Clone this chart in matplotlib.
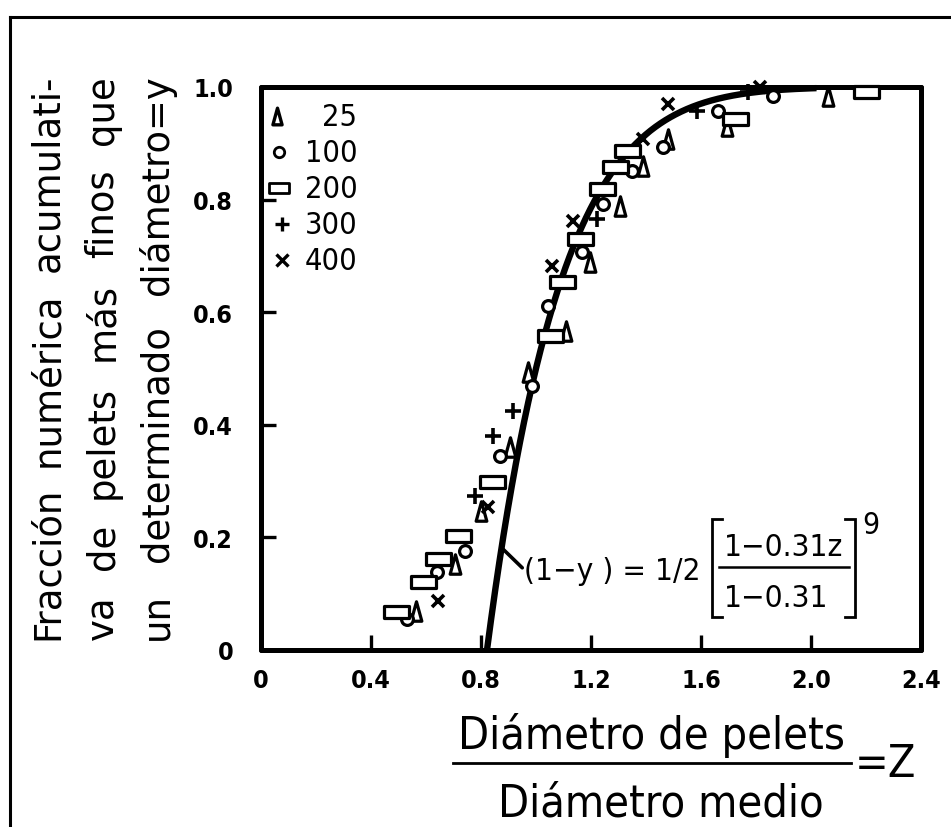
import numpy as np
import matplotlib
matplotlib.use("Agg")
import matplotlib.pyplot as plt
from matplotlib.lines import Line2D
from matplotlib.path import Path
from matplotlib.font_manager import FontProperties

plt.rcParams['font.family'] = ['DejaVu Sans']

# Z = pellet diameter / mean diameter ; Y = cumulative number fraction finer than Z
z_25 = [0.565, 0.705, 0.80, 0.905, 0.97, 1.11, 1.196, 1.305, 1.39, 1.48, 1.695, 2.06]
y_25 = [0.070, 0.153, 0.247, 0.360, 0.494, 0.567, 0.690, 0.789, 0.860, 0.908, 0.930, 0.984]

z_100 = [0.53, 0.64, 0.74, 0.87, 0.985, 1.044, 1.167, 1.244, 1.35, 1.46, 1.66, 1.86]
y_100 = [0.055, 0.138, 0.176, 0.345, 0.469, 0.611, 0.707, 0.792, 0.851, 0.893, 0.957, 0.984]

z_200 = [0.49, 0.59, 0.645, 0.716, 0.84, 1.05, 1.095, 1.16, 1.24, 1.287, 1.33, 1.724, 2.20]
y_200 = [0.068, 0.120, 0.162, 0.203, 0.298, 0.558, 0.654, 0.730, 0.819, 0.858, 0.886, 0.943, 0.991]

z_300 = [0.778, 0.845, 0.917, 1.22, 1.585, 1.77]
y_300 = [0.273, 0.380, 0.424, 0.766, 0.957, 0.991]

z_400 = [0.645, 0.826, 1.058, 1.135, 1.39, 1.48, 1.815]
y_400 = [0.087, 0.254, 0.682, 0.762, 0.908, 0.970, 1.000]

series_labels = ["25", "100", "200", "300", "400"]

# model: (1 - y) = 1/2 * [(1 - a z) / (1 - a)]^n
a_coef = 0.31
n_exp = 9
z_end = 2.02

xticks = [0, 0.4, 0.8, 1.2, 1.6, 2.0, 2.4]
xtick_labels = ["0", "0.4", "0.8", "1.2", "1.6", "2.0", "2.4"]
yticks = [0, 0.2, 0.4, 0.6, 0.8, 1.0]
ytick_labels = ["0", "0.2", "0.4", "0.6", "0.8", "1.0"]

W, H = 951, 828
fig = plt.figure(figsize=(W / 100, H / 100), dpi=100)
fig.patch.set_facecolor('white')
renderer = fig.canvas.get_renderer()

# narrow lettering where a condensed face is available
LBL = dict(family='DejaVu Sans', stretch='condensed')
WIDE = dict(family='DejaVu Sans')


def px(x, y):
    """pixel position (from top-left) -> figure fraction"""
    return x / W, 1 - y / H


def text_width(s, size, font):
    prop = FontProperties(size=size, **font)
    w, h, d = renderer.get_text_width_height_descent(s, prop, ismath=False)
    return w


ax = fig.add_axes([261 / W, 1 - 651 / H, 660 / W, 563 / H])
ax.set_xlim(0, 2.4)
ax.set_ylim(0, 1.0)

for sp in ax.spines.values():
    sp.set_linewidth(3.6)
    sp.set_capstyle('round')

ax.set_xticks(xticks)
ax.set_xticklabels(xtick_labels)
ax.set_yticks(yticks)
ax.set_yticklabels(ytick_labels)
ax.tick_params(axis='both', direction='in', length=11, width=2.4, labelsize=18)
for lab in ax.get_xticklabels() + ax.get_yticklabels():
    lab.set_fontweight('bold')
    lab.set_fontstretch('condensed')
ax.tick_params(axis='x', pad=13)
ax.tick_params(axis='y', pad=20)

# custom open markers: narrow tall triangle and wide rectangle
tri = Path([(-0.55, -1), (0.55, -1), (0, 1), (-0.55, -1)],
           [Path.MOVETO, Path.LINETO, Path.LINETO, Path.CLOSEPOLY])
rect = Path([(-1, -0.5), (1, -0.5), (1, 0.5), (-1, 0.5), (-1, -0.5)],
            [Path.MOVETO, Path.LINETO, Path.LINETO, Path.LINETO, Path.CLOSEPOLY])

styles = [
    dict(marker=tri, ms=14, mew=2.3, mfc='white'),
    dict(marker='o', ms=8.5, mew=2.3, mfc='white'),
    dict(marker=rect, ms=18, mew=2.3, mfc='white'),
    dict(marker='+', ms=11, mew=2.6),
    dict(marker='x', ms=9, mew=2.6),
]
key_styles = [
    dict(marker=tri, ms=12, mew=2.4, mfc='white'),
    dict(marker='o', ms=7.5, mew=2.0, mfc='white'),
    dict(marker=rect, ms=14, mew=2.0, mfc='white'),
    dict(marker='+', ms=10, mew=2.4),
    dict(marker='x', ms=8, mew=2.4),
]
data = [(z_25, y_25), (z_100, y_100), (z_200, y_200), (z_300, y_300), (z_400, y_400)]

# model curve
z0 = (1 - (1 - a_coef) * 2 ** (1 / n_exp)) / a_coef
zc = np.linspace(z0, z_end, 400)
yc = 1 - 0.5 * ((1 - a_coef * zc) / (1 - a_coef)) ** n_exp
ax.plot(zc, yc, color='black', lw=4.6, solid_capstyle='butt', clip_on=False, zorder=3)

for (zs, ys), st in zip(data, styles):
    ax.plot(zs, ys, ls='none', color='black', mec='black', clip_on=False, zorder=4, **st)

# key in the upper-left corner
key_y = [0.948, 0.884, 0.820, 0.756, 0.692]
key_x = [0.024, 0.027, 0.028, 0.032, 0.032]
for kx, ky, lab, st in zip(key_x, key_y, series_labels, key_styles):
    ax.plot([kx], [ky], transform=ax.transAxes, ls='none', color='black', mec='black',
            clip_on=False, zorder=5, **st)
    ax.text(0.146, ky, lab, transform=ax.transAxes, ha='right', va='center',
            fontsize=22, **LBL)

# equation: (1 - y) = 1/2 [ (1 - 0.31 z) / (1 - 0.31) ]^9
eq_num = "1\u22120.31z"
eq_den = "1\u22120.31"
eq_lhs = "(1\u2212y ) = 1/2"
eq_fs = 10 * 119 / text_width(eq_num, 10, LBL)
fig.text(*px(524, 572), eq_lhs, ha='left', va='center', fontsize=eq_fs, **LBL)
fig.text(*px(724, 556), eq_num, ha='left', va='baseline', fontsize=eq_fs, **LBL)
fig.text(*px(724, 607), eq_den, ha='left', va='baseline', fontsize=eq_fs, **LBL)
fig.add_artist(Line2D([719 / W, 849 / W], [1 - 568 / H] * 2, color='black', lw=1.8))
fig.text(*px(862, 526), "9", ha='left', va='center', fontsize=eq_fs * 0.95, **LBL)
# square brackets
for xb, xs in [(712, 722), (855, 845)]:
    fig.add_artist(Line2D([xs / W, xb / W, xb / W, xs / W],
                          [1 - 520 / H, 1 - 520 / H, 1 - 618 / H, 1 - 618 / H],
                          color='black', lw=2.0, solid_joinstyle='miter'))
# leader from the curve to the equation
ax.annotate('', xy=(0.872, 0.183), xytext=(0.950, 0.146),
            arrowprops=dict(arrowstyle='-', lw=2.6, color='black', shrinkA=0, shrinkB=0))

# rotated, justified y label (three lines)
ylines = ["Fracción numérica acumulati-", "va de pelets más finos que", "un determinado diámetro=y"]
y_lo, y_hi = 640, 75
span = y_lo - y_hi
fs = min(10 * span / text_width(l, 10, WIDE) for l in ylines) * 0.97
baselines_x = [58, 113, 168]
for line, bx in zip(ylines, baselines_x):
    words = line.split(' ')
    widths = [text_width(w_, fs, WIDE) for w_ in words]
    gap = (span - sum(widths)) / (len(words) - 1)
    pos = y_lo
    for w_, wd in zip(words, widths):
        fx, fy = px(bx, pos)
        fig.text(fx, fy, w_, rotation=90, rotation_mode='anchor', ha='left', va='baseline',
                 fontsize=fs, **WIDE)
        pos -= wd + gap

# x label as a fraction
num = "Diámetro de pelets"
den = "Diámetro medio"
xl_size = 10 * 388 / text_width(num, 10, LBL)
fig.text(*px(652, 749), num, ha='center', va='baseline', fontsize=xl_size, **LBL)
fig.text(*px(661, 817), den, ha='center', va='baseline', fontsize=xl_size, **LBL)
fig.add_artist(Line2D([453 / W, 851 / W], [1 - 764 / H] * 2, color='black', lw=2.0))
fig.text(*px(855, 765), "=Z", ha='left', va='center', fontsize=xl_size, **LBL)

# outer frame
fig.add_artist(Line2D([10 / W, 10 / W], [0, 1 - 18 / H], color='black', lw=2.2))
fig.add_artist(Line2D([10 / W, 1.0], [1 - 18 / H, 1 - 18 / H], color='black', lw=2.2))

fig.savefig('out.png', dpi=100, facecolor='white')
